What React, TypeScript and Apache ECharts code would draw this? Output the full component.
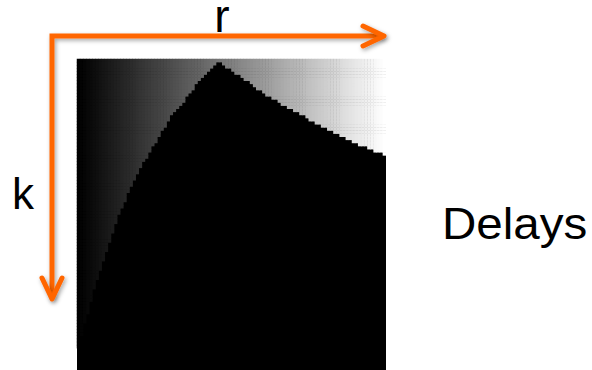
import { useEffect, useRef } from "react";
import * as echarts from "echarts";

// Parameter grid: r runs left to right, k runs top to bottom.
const R_STEPS = 100;
const K_STEPS = 100;
const rCategories = Array.from({ length: R_STEPS }, (_, i) => String(i));
const kCategories = Array.from({ length: K_STEPS }, (_, i) => String(i));

// For each r column, the number of k rows (from the top) that still carry a delay;
// every row below that edge has zero delay.
const delayEdge = [
  93, 89, 85, 82, 78, 74, 71, 68, 65, 62,
  59, 56, 53, 50, 48, 46, 43, 41, 39, 37,
  35, 33, 32, 30, 28, 27, 25, 23, 22, 20,
  18, 17, 16, 15, 14, 12, 11, 10, 8, 7,
  6, 5, 4, 3, 2, 1, 1, 2, 3, 3,
  4, 5, 5, 6, 7, 7, 8, 9, 10, 10,
  11, 12, 12, 13, 13, 14, 15, 15, 16, 16,
  17, 17, 18, 18, 19, 20, 20, 21, 21, 22,
  22, 23, 23, 24, 24, 25, 25, 26, 26, 27,
  27, 28, 28, 28, 29, 29, 30, 30, 30, 31,
];

const ORANGE = "#ff6600";
const FONT = '"Liberation Sans", Arial, Helvetica, sans-serif';

export default function App() {
  const ref = useRef<HTMLDivElement>(null);

  useEffect(() => {
    if (!ref.current) return;
    const chart = echarts.init(ref.current, null, { renderer: "svg" });

    // [r, k, delay] cells; the delay grows with r above the edge
    const cells: number[][] = [];
    delayEdge.forEach((edge, r) => {
      for (let k = 0; k < edge; k++) cells.push([r, k, r]);
    });

    const arrowStyle = {
      stroke: ORANGE,
      fill: null,
      lineWidth: 5,
      lineCap: "round",
      shadowBlur: 4,
      shadowOffsetX: 1.5,
      shadowOffsetY: 2,
      shadowColor: "rgba(0,0,0,0.35)",
    };

    chart.setOption({
      animation: false,
      grid: {
        left: 77,
        top: 59,
        width: 309,
        height: 311,
        show: true,
        backgroundColor: "#000000",
        borderWidth: 0,
      },
      xAxis: { type: "category", data: rCategories, show: false },
      yAxis: { type: "category", data: kCategories, inverse: true, show: false },
      visualMap: {
        type: "continuous",
        show: false,
        min: 0,
        max: R_STEPS - 1,
        dimension: 2,
        inRange: { color: ["#000000", "#ffffff"] },
      },
      series: [
        {
          type: "heatmap",
          data: cells,
          progressive: 0,
          itemStyle: { borderWidth: 0 },
          emphasis: { disabled: true },
        },
      ],
      graphic: [
        {
          type: "polyline",
          shape: { points: [[52, 297], [52, 36], [382, 36]] },
          style: { ...arrowStyle, lineJoin: "miter" },
        },
        {
          type: "polyline",
          shape: { points: [[363, 26], [384, 36], [363, 46]] },
          style: { ...arrowStyle, lineJoin: "round" },
        },
        {
          type: "polyline",
          shape: { points: [[42, 278], [52, 299], [62, 278]] },
          style: { ...arrowStyle, lineJoin: "round" },
        },
        {
          type: "text",
          x: 222,
          y: 16,
          style: {
            text: "r",
            font: `46px ${FONT}`,
            lineHeight: 32,
            fill: "#000",
            align: "center",
            verticalAlign: "middle",
          },
        },
        {
          type: "text",
          x: 12,
          y: 193,
          style: { text: "k", font: `44px ${FONT}`, fill: "#000", align: "left", verticalAlign: "middle" },
        },
        {
          type: "text",
          x: 442,
          y: 224,
          scaleX: 1.08,
          style: { text: "Delays", font: `44px ${FONT}`, fill: "#000", align: "left", verticalAlign: "middle" },
        },
      ],
    });

    return () => chart.dispose();
  }, []);

  return (
    <div
      ref={ref}
      style={{ position: "fixed", left: 0, top: 0, width: 592, height: 370, background: "#ffffff" }}
    />
  );
}
